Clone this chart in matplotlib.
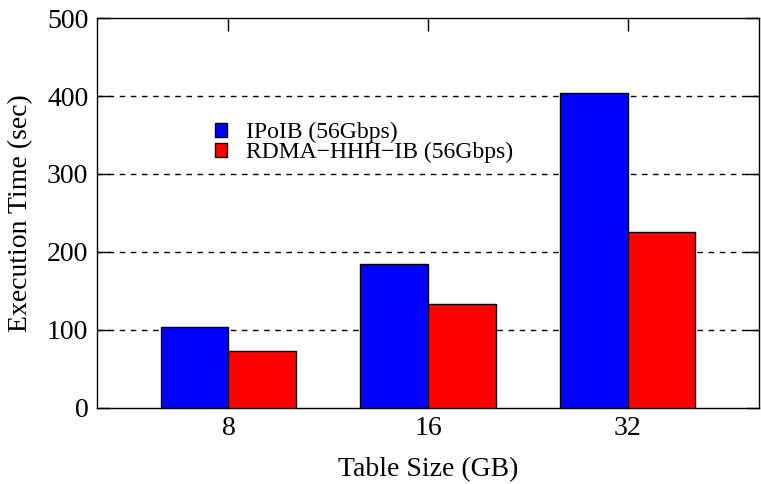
import matplotlib
matplotlib.use('Agg')
import matplotlib.pyplot as plt
import numpy as np

# data
sizes = ['8', '16', '32']
ipoib = [103, 184, 404]
rdma = [72, 133, 225]
series_names = ['IPoIB (56Gbps)', 'RDMA\u2212HHH\u2212IB (56Gbps)']
yticks = [0, 100, 200, 300, 400, 500]

plt.rcParams['font.family'] = ['Liberation Serif', 'DejaVu Serif']

fig = plt.figure(figsize=(7.61, 4.84), dpi=100)
ax = fig.add_axes([96.7/761, 1-407.5/484, (759.3-96.7)/761, (407.5-18.3)/484])

x = np.arange(len(sizes))
w = 0.34
ax.bar(x - w/2, ipoib, w, color='#0000ff', edgecolor='black', lw=1, label=series_names[0], zorder=3)
ax.bar(x + w/2, rdma, w, color='#ff0000', edgecolor='black', lw=1, label=series_names[1], zorder=3)

for v in yticks[1:-1]:
    ax.axhline(v, color='black', lw=1, ls=(0, (4, 4)), zorder=1)

ax.set_xlim(-0.66, 2.66)
ax.set_ylim(0, 500)
ax.set_xticks(x)
ax.set_xticklabels(sizes)
ax.set_yticks(yticks)
ax.tick_params(direction='in', length=9.5, width=1, labelsize=20, top=True, right=True, pad=6)
for s in ax.spines.values():
    s.set_linewidth(1)

ax.set_xlabel('Table Size (GB)', fontsize=20, labelpad=12)
ax.set_ylabel('Execution Time (sec)', fontsize=20, labelpad=10)

leg = ax.legend(loc='upper left', bbox_to_anchor=(215/761, 1-122/484), bbox_transform=fig.transFigure,
                frameon=False, fontsize=17, handlelength=0.52, handleheight=0.52,
                handletextpad=0.78, labelspacing=-0.05, borderpad=0, borderaxespad=0)

fig.savefig('out.png', dpi=100)
plt.close('all')
